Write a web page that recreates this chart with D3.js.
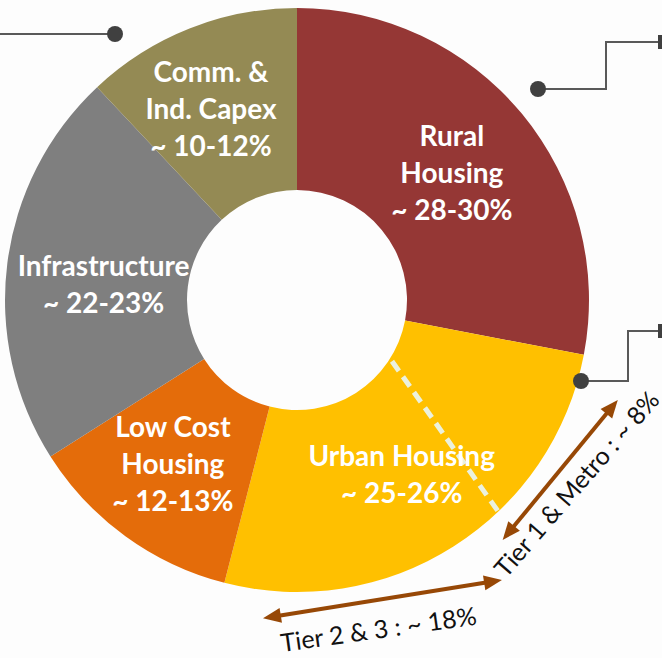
<!DOCTYPE html>
<html>
<head>
<meta charset="utf-8">
<script src="https://cdn.jsdelivr.net/npm/d3@7"></script>
<style>
  body { margin: 0; background: #fdfdfd; }
</style>
</head>
<body>
<div id="chart"></div>
<script>
// donut of loan book split, with the urban slice broken into tiers

var width = 662;
var height = 658;
var cx = 297;
var cy = 300;
var outerR = 292;
var innerR = 110;

var categories = ["Rural Housing", "Urban Housing", "Low Cost Housing", "Infrastructure", "Comm. & Ind. Capex"];
var shares = [28, 26, 12, 22, 12];
var ranges = ["~ 28-30%", "~ 25-26%", "~ 12-13%", "~ 22-23%", "~ 10-12%"];
var labelLines = [["Rural", "Housing"], ["Urban Housing"], ["Low Cost", "Housing"], ["Infrastructure"], ["Comm. &", "Ind. Capex"]];
var colors = ["#953735", "#ffc000", "#e46c0a", "#7f7f7f", "#948a54"];

var tierNames = ["Tier 1 & Metro", "Tier 2 & 3"];
var tierShares = [8, 18];

var deg = Math.PI / 180;

var svg = d3.select("#chart")
  .append("svg")
  .attr("width", width)
  .attr("height", height)
  .style("display", "block")
  .style("background", "#fdfdfd");

var g = svg.append("g").attr("transform", "translate(" + cx + "," + cy + ")");

var pie = d3.pie().sort(null).value(function(d) { return d; });
var arcs = pie(shares);

var arc = d3.arc().innerRadius(innerR).outerRadius(outerR);

g.selectAll("path.slice")
  .data(arcs)
  .enter()
  .append("path")
  .attr("class", "slice")
  .attr("d", arc)
  .attr("fill", function(d, i) { return colors[i]; });

// dashed split inside urban housing (tier 1 vs tier 2&3)
var splitAngle = arcs[1].startAngle + tierShares[0] / 100 * 2 * Math.PI;
var skew = 6.8 * deg;
var pIn = d3.pointRadial(splitAngle - skew, innerR + 3);
var pOut = d3.pointRadial(splitAngle + skew, outerR - 1);
g.append("line")
  .attr("x1", pIn[0]).attr("y1", pIn[1])
  .attr("x2", pOut[0]).attr("y2", pOut[1])
  .attr("stroke", "#ebf1de")
  .attr("stroke-width", 5)
  .attr("stroke-dasharray", "12,7");

// slice labels
var labelNudge = [[0, 2], [-3, 6], [-6, 2], [6, 11], [-12, -3]];
var lineH = 37;
arcs.forEach(function(d, i) {
  var c = arc.centroid(d);
  var lines = labelLines[i].concat([ranges[i]]);
  var t = g.append("text")
    .attr("text-anchor", "middle")
    .attr("fill", "#ffffff")
    .attr("font-family", "Lato, 'Open Sans', sans-serif")
    .attr("font-weight", "bold")
    .attr("font-size", 28);
  var y0 = c[1] + labelNudge[i][1] - (lines.length - 1) * lineH / 2 + 9;
  lines.forEach(function(s, j) {
    t.append("tspan")
      .attr("x", c[0] + labelNudge[i][0])
      .attr("y", y0 + j * lineH)
      .text(s);
  });
});

// double headed arrows for the tiers
function arrow(a1, r1, a2, r2) {
  var p1 = d3.pointRadial(a1 * deg, r1);
  var p2 = d3.pointRadial(a2 * deg, r2);
  var dx = p2[0] - p1[0], dy = p2[1] - p1[1];
  var len = Math.sqrt(dx * dx + dy * dy);
  var ux = dx / len, uy = dy / len;
  var nx = -uy, ny = ux;
  var L = 18, W = 15;
  g.append("line")
    .attr("x1", p1[0] + ux * (L - 2)).attr("y1", p1[1] + uy * (L - 2))
    .attr("x2", p2[0] - ux * (L - 2)).attr("y2", p2[1] - uy * (L - 2))
    .attr("stroke", "#974806")
    .attr("stroke-width", 4);
  [[p1, 1], [p2, -1]].forEach(function(e) {
    var p = e[0], s = e[1];
    var bx = p[0] + s * ux * L, by = p[1] + s * uy * L;
    g.append("path")
      .attr("d", "M" + p[0] + "," + p[1] +
        "L" + (bx + nx * W / 2) + "," + (by + ny * W / 2) +
        "L" + (bx - nx * W / 2) + "," + (by - ny * W / 2) + "Z")
      .attr("fill", "#974806");
  });
}
arrow(139.4, 316, 107.3, 336);
arrow(186.1, 320, 143.8, 347);

svg.append("text")
  .attr("transform", "translate(506,579) rotate(-49)")
  .attr("font-family", "Lato, 'Open Sans', sans-serif")
  .attr("font-size", 25)
  .attr("fill", "#111")
  .text(tierNames[0] + " : ~ " + tierShares[0] + "%");

svg.append("text")
  .attr("transform", "translate(282,652) rotate(-8)")
  .attr("font-family", "Lato, 'Open Sans', sans-serif")
  .attr("font-size", 25)
  .attr("fill", "#111")
  .text(tierNames[1] + " : ~ " + tierShares[1] + "%");

// callout connectors
var callouts = [
  { dot: [115, 34], pts: [[115, 34], [0, 34]], cap: null },
  { dot: [538, 89], pts: [[538, 89], [606, 89], [606, 42], [660, 42]], cap: 42 },
  { dot: [581, 381], pts: [[581, 381], [628, 381], [628, 331], [660, 331]], cap: 331 }
];
callouts.forEach(function(c) {
  svg.append("path")
    .attr("d", d3.line()(c.pts))
    .attr("fill", "none")
    .attr("stroke", "#595959")
    .attr("stroke-width", 2);
  if (c.cap !== null) {
    svg.append("rect")
      .attr("x", 658).attr("y", c.cap - 7)
      .attr("width", 4).attr("height", 14)
      .attr("fill", "#404040");
  }
  svg.append("circle")
    .attr("cx", c.dot[0]).attr("cy", c.dot[1])
    .attr("r", 8)
    .attr("fill", "#404040");
});
</script>
</body>
</html>
